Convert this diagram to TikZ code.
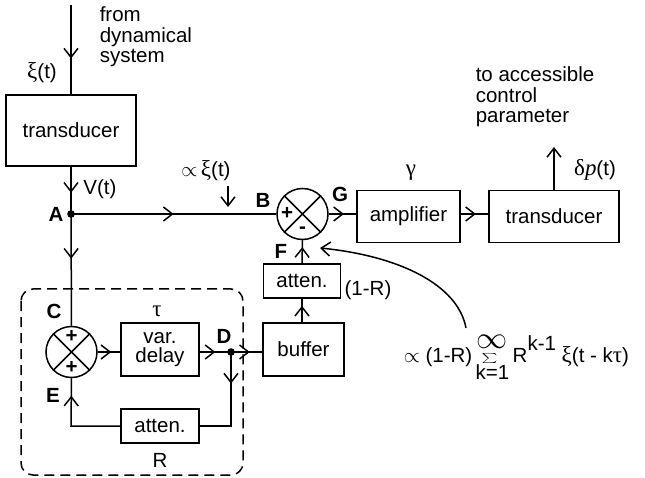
\documentclass[tikz,border=0pt]{standalone}
\usepackage{fontspec}
\setmainfont{Liberation Sans}
\newfontfamily\grk[Scale=1.12]{Liberation Serif}
\usetikzlibrary{arrows.meta,decorations.markings}
\tikzset{vtip/.tip={Straight Barb[length=9pt,width=14pt,line width=1.5pt]}}
\begin{document}
\begin{tikzpicture}[x=1pt,y=-1pt,
  line width=1.5pt,
  font=\fontsize{20.5}{20.5}\selectfont,
  every node/.style={inner sep=0pt},
  boxnode/.style={draw,rectangle,align=center,font=\fontsize{20.5}{21}\selectfont},
  sumnode/.style={draw,circle,minimum size=51pt},
  lbl/.style={font=\fontsize{20.5}{20.5}\selectfont\bfseries},
  midarr/.style={postaction={decorate},decoration={markings,mark=at position #1 with {\arrow{vtip}}}},
  endarr/.style={-{vtip}}
]
\useasboundingbox (0,0) rectangle (645,478);

% boxes
\node[boxnode,minimum width=130pt,minimum height=71pt] (T1) at (71,130.5) {transducer};
\node[sumnode] (B) at (302.5,214) {};
\node[boxnode,minimum width=103pt,minimum height=52pt] (AMP) at (408.5,216.5) {amplifier};
\node[boxnode,minimum width=130pt,minimum height=52pt] (T2) at (554,216.5) {transducer};
\node[boxnode,minimum width=77pt,minimum height=34pt] (ATT1) at (302,281) {atten.};
\node[boxnode,minimum width=81pt,minimum height=53pt] (BUF) at (303.5,349.5) {buffer};
\node[sumnode] (C) at (71.5,352) {};
\node[boxnode,minimum width=78pt,minimum height=53pt,font=\fontsize{20.5}{19}\selectfont] (VD) at (160,349.5) {var.\\delay};
\node[boxnode,minimum width=78pt,minimum height=34pt] (ATT2) at (160,426) {atten.};

% crosses in summing junctions
\foreach \n in {B,C}{
  \draw (\n.north west) -- (\n.south east);
  \draw (\n.north east) -- (\n.south west);
}
\node[lbl] (Bp) at (287,213) {+};
\node[lbl] (Bm) at (302.5,230) {-};
\node[lbl] (Cp1) at (71.5,336) {+};
\node[lbl] (Cp2) at (71.5,367) {+};

% coordinates
\coordinate (in) at (71,5);
\coordinate (A) at (71,214);
\coordinate (D) at (231,352);
\coordinate (out) at (554,147);
\coordinate (cs) at (466,328);
\coordinate (ce) at (320,248);
\coordinate (pa) at (228,186);
\coordinate (pb) at (228,207);
\coordinate (Ecorner) at (71,426);
\coordinate (Dcorner) at (231,426);

% connectors
\draw[midarr=0.6] (in) -- (T1.north -| in);
\draw[midarr=0.55] (T1.south -| A) -- (A);
\draw[midarr=0.5] (A) -- (B.west);
\draw[midarr=0.55] (B.east) -- (AMP.west |- B.east);
\draw[midarr=0.55] (AMP.east |- B.east) -- (T2.west |- B.east);
\draw[endarr] (T2.north) -- (out);
\draw[midarr=0.7] (ATT1.north) -- (B.south);
\draw[midarr=0.7] (BUF.north -| ATT1.north) -- (ATT1.south);
\draw[midarr=0.4] (A) -- (C.north);
\draw[midarr=0.6] (C.east) -- (VD.west |- C.east);
\draw[midarr=0.5] (VD.east |- D) -- (D);
\draw[midarr=0.6] (D) -- (BUF.west |- D);
\draw[midarr=0.3] (D) -- (Dcorner) -- (ATT2.east);
\draw[midarr=0.82] (ATT2.west) -- (Ecorner) -- (C.south);
\draw[endarr] (pa) -- (pb);
\draw[endarr] (cs) .. controls (458,285) and (400,256) .. (ce);
\fill (A) circle (3.8pt);
\fill (D) circle (3.8pt);

% dashed enclosure
\draw[dashed,dash pattern=on 10pt off 6pt,rounded corners=12pt] (21,289) rectangle (243,475);

% labels
\node[anchor=north west,align=left,font=\fontsize{20.5}{20.5}\selectfont] (from) at (99,6) {from\\dynamical\\system};
\node[anchor=north west,align=left,font=\fontsize{20.5}{20.5}\selectfont] (to) at (475,66) {to accessible\\control\\parameter};
\node (xi) at (42,73) {{\grk ξ}(t)};
\node (Vt) at (100,189) {V(t)};
\node (pxi) at (206,171) {$\propto$\,{\grk ξ}(t)};
\node (gam) at (411,173) {\grk γ};
\node (dp) at (595,170) {{\grk δ\itshape p}(t)};
\node (oneR) at (368,290) {(1-R)};
\node (tau) at (157,311) {\grk τ};
\node (Rl) at (160,460) {R};
\node[lbl] (Al) at (56,214) {A};
\node[lbl] (Bl) at (263,200) {B};
\node[lbl] (Gl) at (340,194) {G};
\node[lbl] (Fl) at (281,251) {F};
\node[lbl] (Cl) at (54,311) {C};
\node[lbl] (Dl) at (224,336) {D};
\node[lbl] (El) at (53,395) {E};

% formula
\node[anchor=base west] (form) at (403,362) {$\propto$ (1-R)\,$\mathop{\scalebox{1.5}[1.0]{$\scriptstyle\sum$}}\limits_{\mbox{k=1}}^{\mbox{\raisebox{3pt}{\scalebox{1.5}{$\infty$}}}}$\,R\raisebox{0.55em}{k-1} {\grk ξ}(t - k{\grk τ})};
\end{tikzpicture}
\end{document}
